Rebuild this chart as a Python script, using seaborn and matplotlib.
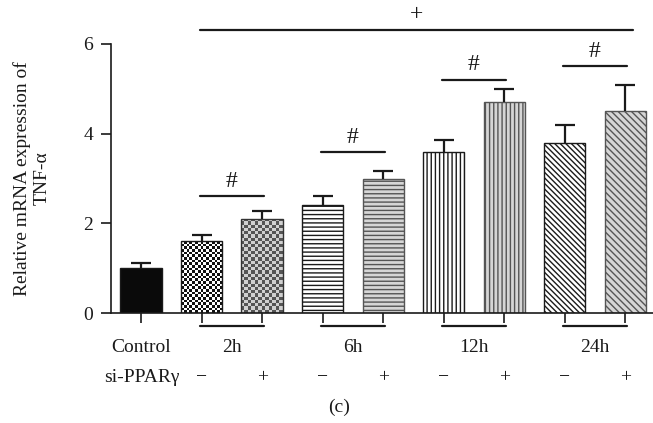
import numpy as np
import pandas as pd
import seaborn as sns
import matplotlib.pyplot as plt

# bar values
groups = ['Control', '2h-', '2h+', '6h-', '6h+', '12h-', '12h+', '24h-', '24h+']
means = [1.0, 1.6, 2.1, 2.4, 3.0, 3.6, 4.7, 3.8, 4.5]
errs = [0.11, 0.15, 0.18, 0.2, 0.17, 0.26, 0.29, 0.4, 0.58]
time_labels = ['2h', '6h', '12h', '24h']
si_marks = ['−', '+', '−', '+', '−', '+', '−', '+']
# significance bars: (from, to, height, symbol)
sig_lines = [(1, 2, 2.6, '#'), (3, 4, 3.58, '#'), (5, 6, 5.2, '#'), (7, 8, 5.5, '#'), (1, 8.1, 6.32, '+')]

sns.set_style('ticks')
plt.rcParams['font.family'] = ['Liberation Serif', 'DejaVu Serif']
plt.rcParams['hatch.linewidth'] = 1.0
ink = '#1a1a1a'

df = pd.DataFrame({'group': groups, 'value': means})

fig = plt.figure(figsize=(6.53, 4.23), dpi=100)
ax = fig.add_axes([0.17, 0.26, 0.83, 0.636])
sns.barplot(data=df, x='group', y='value', order=groups, color='white',
            width=0.68, errorbar=None, ax=ax)

xlim = (-0.496, 8.46)
ax.set_xlim(*xlim)
ax.set_ylim(0, 6)

# bar fills
styles = [
    dict(fc='#0a0a0a', ec=ink, hatch=None),
    dict(fc='none', ec=ink, hatch=None),          # checker, drawn below
    dict(fc='none', ec='#333333', hatch=None),    # checker, drawn below
    dict(fc='white', ec=ink, hatch='----'),
    dict(fc='#d6d6d6', ec='#555555', hatch='----'),
    dict(fc='white', ec=ink, hatch='||||'),
    dict(fc='#d6d6d6', ec='#555555', hatch='||||'),
    dict(fc='white', ec=ink, hatch='\\' * 6),
    dict(fc='#d6d6d6', ec='#555555', hatch='\\' * 5),
]
bars = ax.patches[:len(groups)]
for p, s in zip(bars, styles):
    p.set_facecolor(s['fc'])
    p.set_edgecolor(s['ec'])
    p.set_linewidth(1.0)
    if s['hatch']:
        p.set_hatch(s['hatch'])

# checkerboard textures for the 2h bars
px_per_x = 0.83 * 653 / (xlim[1] - xlim[0])
px_per_y = 0.636 * 423 / 6
for idx, cell, cols in [(1, 2.7, ('white', '#111111')), (2, 3.3, ('#d0d0d0', '#555555'))]:
    p = bars[idx]
    x0, w, h = p.get_x(), p.get_width(), p.get_height()
    nx = int(round(w * px_per_x / cell))
    ny = int(round(h * px_per_y / cell))
    board = np.indices((ny, nx)).sum(axis=0) % 2
    cmap = plt.matplotlib.colors.ListedColormap(cols)
    im = ax.imshow(board, cmap=cmap, extent=(x0, x0 + w, 0, h), aspect='auto',
                   interpolation='nearest', origin='lower', zorder=0.9)
    im.set_clip_path(p)

ax.set_xlim(*xlim)
ax.set_ylim(0, 6)

# one-sided error bars
xs = np.arange(len(groups))
top = np.array(means) + np.array(errs)
ax.vlines(xs, means, top, color=ink, lw=1.6, zorder=3)
ax.hlines(top, xs - 0.165, xs + 0.165, color=ink, lw=1.6, zorder=3)

# significance markers
for a, b, yy, sym in sig_lines:
    ax.plot([a - 0.03, b + 0.03], [yy, yy], color=ink, lw=1.6, clip_on=False)
    ax.text((a + b) / 2 if sym == '#' else 4.55, yy + 0.1, sym, ha='center', va='bottom',
            fontsize=17, color=ink)

# group underlines below the axis
for i in range(4):
    a, b = 1 + 2 * i, 2 + 2 * i
    ax.plot([a - 0.03, b + 0.03], [-0.285, -0.285], color=ink, lw=1.6, clip_on=False)

ax.set_xticks(xs)
ax.set_xticklabels([])
ax.set_xlabel('')
ax.set_yticks([0, 2, 4, 6])
ax.tick_params(axis='both', length=7, width=1.2, colors=ink, labelsize=14, pad=6)
ax.tick_params(axis='x', length=7.5)
for sp in ['top', 'right']:
    ax.spines[sp].set_visible(False)
for sp in ['left', 'bottom']:
    ax.spines[sp].set_linewidth(1.2)
    ax.spines[sp].set_color(ink)

ax.set_ylabel('Relative mRNA expression of\nTNF-α', fontsize=14, color=ink, linespacing=1.15)
ax.yaxis.set_label_coords(-0.112, 0.5)

# category rows
ax.text(0, -0.76, 'Control', ha='center', va='center', fontsize=14, color=ink, clip_on=False)
for i, lab in enumerate(time_labels):
    ax.text(1.5 + 2 * i, -0.76, lab, ha='center', va='center', fontsize=14, color=ink)
ax.text(0.645, -1.43, 'si-PPARγ', ha='right', va='center', fontsize=14, color=ink)
for i, m in enumerate(si_marks):
    ax.text(1 + i, -1.43, m, ha='center', va='center', fontsize=14, color=ink)

fig.text(0.52, 0.038, '(c)', ha='center', va='center', fontsize=14, color=ink)

fig.savefig('out.png', dpi=100)
